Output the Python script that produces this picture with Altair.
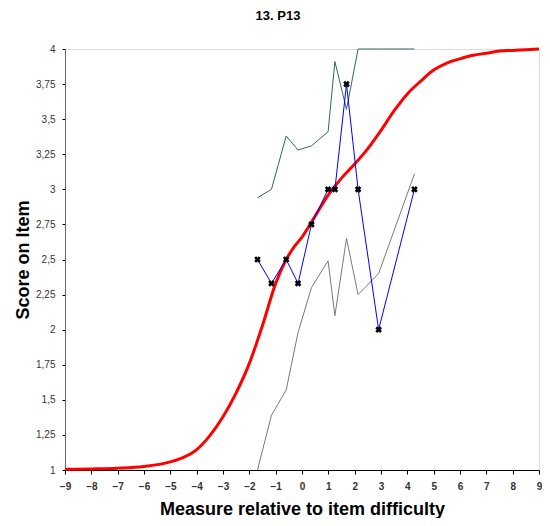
import altair as alt
import pandas as pd

# Observed points (x = measure relative to item difficulty)
obs_x = [-1.69, -1.16, -0.6, -0.15, 0.36, 0.99, 1.25, 1.69, 2.13, 2.91, 4.27]
obs_y = [2.5, 2.33, 2.5, 2.33, 2.75, 3.0, 3.0, 3.75, 3.0, 2.0, 3.0]
upper_y = [2.94, 3.0, 3.38, 3.28, 3.31, 3.41, 3.91, 3.57, 4.0, 4.0, 4.0]
lower_y = [1.0, 1.39, 1.57, 1.98, 2.30, 2.49, 2.10, 2.65, 2.25, 2.40, 3.11]

# Model expected score curve
curve_x = [-9, -8, -7, -6, -5, -4.5, -4, -3.5, -3, -2.5, -2, -1.5, -1, -0.6, -0.3, 0, 0.5,
           1, 1.5, 2, 2.5, 3, 3.5, 4, 4.5, 5, 5.5, 6, 6.5, 7, 7.5, 8, 8.5, 9]
curve_y = [1.005, 1.008, 1.013, 1.025, 1.058, 1.09, 1.145, 1.245, 1.38, 1.55, 1.76, 2.03,
           2.33, 2.50, 2.59, 2.66, 2.81, 2.96, 3.08, 3.18, 3.29, 3.42, 3.56, 3.68, 3.77,
           3.85, 3.90, 3.93, 3.955, 3.97, 3.985, 3.99, 3.995, 4.0]

x_ticks = list(range(-9, 10))
y_ticks = [1, 1.25, 1.5, 1.75, 2, 2.25, 2.5, 2.75, 3, 3.25, 3.5, 3.75, 4]

FONT = "Liberation Sans"

obs = pd.DataFrame({"x": obs_x, "obs": obs_y, "upper": upper_y, "lower": lower_y})
curve = pd.DataFrame({"x": curve_x, "y": curve_y})

xscale = alt.Scale(domain=[-9, 9], nice=False, zero=False)
yscale = alt.Scale(domain=[1, 4], nice=False, zero=False)

xaxis = alt.Axis(values=x_ticks, title="Measure relative to item difficulty", grid=False,
                 labelFont=FONT, labelFontSize=10, labelFontWeight="bold", labelColor="#333",
                 tickSize=4, tickColor="#000", domainColor="#000", labelPadding=7,
                 labelOverlap=False, labelFlush=False,
                 titleFont=FONT, titleFontSize=18, titleFontWeight="bold", titleColor="#000",
                 titleBaseline="alphabetic", titleY=44)
yaxis = alt.Axis(values=y_ticks, title="Score on Item", grid=False,
                 labelExpr="replace(format(datum.value, ''), '.', ',')",
                 labelFont=FONT, labelFontSize=10, labelColor="#333",
                 tickSize=3, tickColor="#000", domainColor="#666", labelPadding=7,
                 labelOverlap=False,
                 titleFont=FONT, titleFontSize=18, titleFontWeight="bold", titleColor="#000",
                 titleBaseline="alphabetic", titleAngle=270, titleX=-37)


def X():
    return alt.X("x:Q", scale=xscale, axis=xaxis)


def Y(field):
    return alt.Y(f"{field}:Q", scale=yscale, axis=yaxis)


base = alt.Chart(obs)

lower_line = base.mark_line(color="#7a7a7a", strokeWidth=1).encode(x=X(), y=Y("lower"))
upper_line = base.mark_line(color="#336666", strokeWidth=1).encode(x=X(), y=Y("upper"))
model = alt.Chart(curve).mark_line(color="#FF0000", strokeWidth=3, interpolate="monotone").encode(
    x=X(), y=Y("y"))
obs_line = base.mark_line(color="#0000FF", strokeWidth=1).encode(x=X(), y=Y("obs"))
obs_pts = base.mark_point(shape="cross", filled=True, angle=45, size=45, color="#000", opacity=1).encode(
    x=X(), y=Y("obs"))

chart = alt.layer(lower_line, upper_line, model, obs_line, obs_pts).properties(
    width=474, height=421,
    title=alt.TitleParams("13. P13", font=FONT, fontSize=13, fontWeight="bold", color="#000",
                          anchor="middle", dx=-24, offset=20),
    autosize=alt.AutoSizeParams(type="none"),
    padding={"left": 57, "top": 41, "right": 3, "bottom": 48},
).configure_view(stroke="#444", strokeWidth=1).configure(background="white")

chart.save("out.html", embed_options={"renderer": "svg", "actions": False})
